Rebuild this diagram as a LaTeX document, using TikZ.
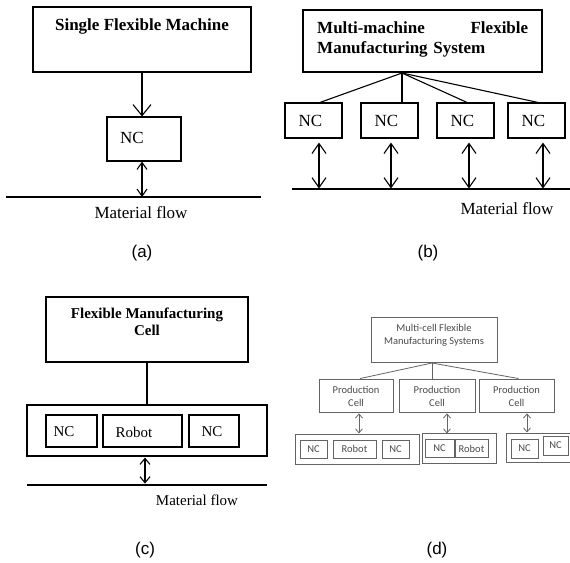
\documentclass[tikz,border=0pt]{standalone}
\usepackage{fontspec}
\setmainfont{Liberation Serif}
\newfontfamily\labfont{Liberation Sans}
\newfontfamily\carl{Carlito}
\usetikzlibrary{arrows.meta,calc}
\definecolor{dtext}{RGB}{75,75,75}
\definecolor{dline}{RGB}{100,100,100}
\begin{document}
\begin{tikzpicture}[x=1pt,y=-1pt,
  bx/.style={draw, line width=1.1pt, inner sep=0pt},
  ln/.style={line width=1.1pt},
  tA/.style={inner sep=0pt, font=\fontsize{17}{20}\selectfont},
  tC/.style={inner sep=0pt, font=\fontsize{15}{17}\selectfont},
  tD/.style={inner sep=0pt, text=dtext, font=\carl\fontsize{10.5}{13}\selectfont},
  lab/.style={inner sep=0pt, font=\labfont\fontsize{17}{20}\selectfont},
  dbx/.style={draw=dline, line width=0.9pt, inner sep=0pt},
  gbx/.style={draw=dline, line width=1pt, inner sep=0pt},
  arrA/.style={-{Straight Barb[length=11pt,width=18pt]}, line width=1.1pt},
  dblA/.style={{Straight Barb[length=7pt,width=10pt]}-{Straight Barb[length=7pt,width=10pt]}, line width=1.1pt},
  dblB/.style={{Straight Barb[length=10pt,width=14pt]}-{Straight Barb[length=10pt,width=14pt]}, line width=1.1pt},
  dblC/.style={{Straight Barb[length=6pt,width=10pt]}-{Straight Barb[length=6pt,width=10pt]}, line width=1.1pt},
  dblD/.style={{Straight Barb[length=4pt,width=7pt]}-{Straight Barb[length=4pt,width=7pt]}, line width=0.8pt, draw=dline},
]
\useasboundingbox[fill=white] (0,0) rectangle (570,562);

% ---------------- (a) ----------------
\node[bx, minimum width=218pt, minimum height=65pt] (aTop) at (142,39.5) {};
\node[tA] (aTitle) at (142,26) {\bfseries Single Flexible Machine};
\node[bx, minimum width=74pt, minimum height=44pt] (aNC) at (144,139) {};
\node[tA] (aNCt) at (132,138) {NC};
\coordinate (aL1) at (6,197);
\coordinate (aL2) at (261,197);
\draw[ln] (aL1) -- (aL2);
\draw[arrA] (aTop.south) -- (aTop.south |- aNC.north);
\draw[dblA] (aTop.south |- aNC.south) -- (aTop.south |- aL1);
\node[tA] (aMF) at (141,213) {Material flow};
\node[lab] (aLab) at (142,253) {(a)};

% ---------------- (b) ----------------
\node[bx, minimum width=239pt, minimum height=62pt] (bTop) at (422.5,41) {};
\node[tA, text width=211pt, align=left, anchor=north west] (bTitle) at (317,22)
  {\bfseries Multi-machine\hfill Flexible\\Manufacturing System};
\foreach \i/\cx in {1/313.5,2/389.5,3/465.5,4/536.5}{
  \node[bx, minimum width=57pt, minimum height=35pt] (b\i) at (\cx,120.5) {};
  \node[tA] (b\i t) at (\cx-3,121) {NC};
}
\coordinate (bApex) at (402,73);
\draw[ln] (bApex) -- ($(b1.north)+(6.5,0)$);
\draw[ln] (bApex) -- ($(b2.north)+(12.5,0)$);
\draw[ln] (bApex) -- ($(b3.north)+(1.5,0)$);
\draw[ln] (bApex) -- ($(b4.north)+(1.5,0)$);
\coordinate (bL1) at (292,189);
\coordinate (bL2) at (570,189);
\draw[ln] (bL1) -- (bL2);
\draw[dblB] ($(b1.south)+(5.5,4)$) -- ($(b1.south)+(5.5,50)$);
\draw[dblB] ($(b2.south)+(1.5,4)$) -- ($(b2.south)+(1.5,50)$);
\draw[dblB] ($(b3.south)+(3.5,4)$) -- ($(b3.south)+(3.5,50)$);
\draw[dblB] ($(b4.south)+(6.5,4)$) -- ($(b4.south)+(6.5,50)$);
\node[tA] (bMF) at (507,209) {Material flow};
\node[lab] (bLab) at (428,253) {(b)};

% ---------------- (c) ----------------
\node[bx, minimum width=202pt, minimum height=65pt] (cTop) at (147,329.5) {};
\node[tC, align=center] (cTitle) at (147,322) {\bfseries Flexible Manufacturing\\\bfseries Cell};
\node[bx, minimum width=240pt, minimum height=51pt] (cOut) at (147,430.5) {};
\draw[ln] (cTop.south) -- (cOut.north);
\node[bx, minimum width=51pt, minimum height=32pt] (c1) at (71.5,431) {};
\node[bx, minimum width=79pt, minimum height=32pt] (c2) at (142.5,431) {};
\node[bx, minimum width=50pt, minimum height=32pt] (c3) at (214,431) {};
\node[tC] (c1t) at (64,432) {NC};
\node[tC] (c2t) at (134,432) {Robot};
\node[tC] (c3t) at (212,432) {NC};
\coordinate (cL1) at (27,485);
\coordinate (cL2) at (267,485);
\draw[ln] (cL1) -- (cL2);
\draw[dblC] ($(cOut.south)+(-2,1)$) -- ($(cOut.south)+(-2,27)$);
\node[tC] (cMF) at (197,500) {Material flow};
\node[lab] (cLab) at (145,550) {(c)};

% ---------------- (d) ----------------
\node[dbx, minimum width=126pt, minimum height=45pt] (dTop) at (434,339.5) {};
\node[tD, align=center] (dTitle) at (434,335) {Multi-cell Flexible\\Manufacturing Systems};
\coordinate (dApex) at (432,363);
\node[dbx, minimum width=74pt, minimum height=33pt] (p1) at (356,395.5) {};
\node[dbx, minimum width=76pt, minimum height=33pt] (p2) at (437,395.5) {};
\node[dbx, minimum width=75pt, minimum height=33pt] (p3) at (516.5,395.5) {};
\foreach \i in {1,2,3}{
  \node[tD, align=center] (p\i t) at ($(p\i)+(0,1)$) {Production\\Cell};
}
\draw[dline, line width=0.8pt] (dApex) -- ($(p1.north)+(4,0)$);
\draw[dline, line width=0.8pt] (dApex) -- ($(p2.north)+(-5,0)$);
\draw[dline, line width=0.8pt] (dApex) -- ($(p3.north)+(2,0)$);
% groups
\node[gbx, minimum width=124pt, minimum height=30pt] (g1) at (357,449) {};
\node[gbx, minimum width=74pt, minimum height=30pt] (g2) at (459,448.5) {};
\node[gbx, minimum width=80pt, minimum height=29pt] (g3) at (546,447.5) {};
\draw[dblD] ($(p1.south)+(3,1)$) -- ($(p1.south)+(3,21)$);
\draw[dblD] ($(p2.south)+(10,1)$) -- ($(p2.south)+(10,21)$);
\draw[dblD] ($(p3.south)+(10.5,1)$) -- ($(p3.south)+(10.5,20)$);
\node[dbx, minimum width=27pt, minimum height=18pt] (g1a) at (313.5,449) {};
\node[dbx, minimum width=43pt, minimum height=18pt] (g1b) at (354.5,449) {};
\node[dbx, minimum width=27pt, minimum height=18pt] (g1c) at (395.5,449) {};
\node[dbx, minimum width=29pt, minimum height=18pt] (g2a) at (439.5,448.5) {};
\node[dbx, minimum width=33pt, minimum height=18pt] (g2b) at (471.5,448.5) {};
\node[dbx, minimum width=27pt, minimum height=19pt] (g3a) at (524.5,448.5) {};
\node[dbx, minimum width=25pt, minimum height=19pt] (g3b) at (555.5,445.5) {};
\node[tD] (g1at) at (g1a) {NC};
\node[tD] (g1bt) at (g1b) {Robot};
\node[tD] (g1ct) at (g1c) {NC};
\node[tD] (g2at) at (g2a) {NC};
\node[tD] (g2bt) at (g2b) {Robot};
\node[tD] (g3at) at (g3a) {NC};
\node[tD] (g3bt) at (g3b) {NC};
\node[lab] (dLab) at (437,550) {(d)};
\end{tikzpicture}
\end{document}
